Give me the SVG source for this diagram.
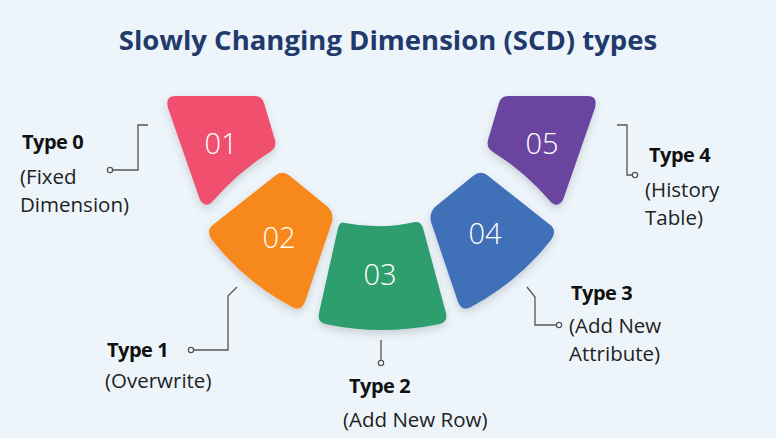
<svg xmlns="http://www.w3.org/2000/svg" width="776" height="438" viewBox="0 0 776 438">
<style>
.num{font-family:"Open Sans","Liberation Sans",sans-serif;font-size:29px;font-weight:300;fill:#fff;text-anchor:middle}
.h{font-family:"Open Sans","Liberation Sans",sans-serif;font-size:20px;font-weight:bold;fill:#111;letter-spacing:-0.5px}
.t{font-family:"Open Sans","Liberation Sans",sans-serif;font-size:20.5px;fill:#222}
.c{fill:none;stroke:#555;stroke-width:1.3}
.d{fill:#fff;stroke:#555;stroke-width:1.3}
</style>
<defs>
<filter id="sh" x="-20%" y="-20%" width="140%" height="140%"><feDropShadow dx="0" dy="4" stdDeviation="4" flood-color="#000" flood-opacity="0.15"/></filter>
<path id="p1" d="M175,96 L255,96 Q262,96 264,103 L275,140 Q277,148 270,152 Q238,172 213,201 Q206,209 200,200 L168,108 Q165,96 175,96 Z"/>
<path id="p2" d="M276,175 Q283,170 290,176 L328,207 Q334,213 332,222 L305,302 Q301,312 292,307 Q245,282 212,240 Q205,230 214,224 Z"/>
</defs>
<rect width="776" height="438" fill="#edf5fb"/>
<text x="388" y="50" text-anchor="middle" font-family="'Open Sans','Liberation Sans',sans-serif" font-size="27.5" font-weight="bold" fill="#213a6b">Slowly Changing Dimension (SCD) types</text>
<g id="n1"><use href="#p1" fill="#f0506e" filter="url(#sh)"/><text class="num" x="221" y="154">01</text></g>
<g id="n2"><use href="#p2" fill="#f7891f" filter="url(#sh)"/><text class="num" x="279" y="248">02</text></g>
<g id="n3"><path d="M345,223 Q381,230 415,222 Q421,221 423,228 L446,313 Q448,322 440,324 Q381,336 325,324 Q317,322 319,313 L338,228 Q340,221 345,223 Z" fill="#2e9e6e" filter="url(#sh)"/><text class="num" x="380" y="285">03</text></g>
<g id="n4"><use href="#p2" transform="translate(763,0) scale(-1,1)" fill="#3f6fb8" filter="url(#sh)"/><text class="num" x="485" y="244">04</text></g>
<g id="n5"><use href="#p1" transform="translate(763,0) scale(-1,1)" fill="#6a45a0" filter="url(#sh)"/><text class="num" x="542" y="154">05</text></g>
<g id="connectors">
<polyline class="c" points="148,125 138,125 138,170 113,170"/><circle class="d" cx="110" cy="170" r="2.6"/>
<polyline class="c" points="237,287 228,296 228,350 194,350"/><circle class="d" cx="191" cy="350" r="2.6"/>
<line class="c" x1="381" y1="340" x2="381" y2="360"/><circle class="d" cx="381" cy="363" r="2.6"/>
<polyline class="c" points="527,287 535,297 535,325 556,325"/><circle class="d" cx="559" cy="325" r="2.6"/>
<polyline class="c" points="617,125 627,125 627,175 632,175"/><circle class="d" cx="635" cy="175" r="2.6"/>
</g>
<g id="l0"><text class="h" x="22" y="149">Type 0</text><text class="t" x="20" y="184">(Fixed</text><text class="t" x="20" y="212">Dimension)</text></g>
<g id="l1"><text class="h" x="107" y="357">Type 1</text><text class="t" x="105" y="388">(Overwrite)</text></g>
<g id="l2"><text class="h" x="349" y="393">Type 2</text><text class="t" x="343" y="427">(Add New Row)</text></g>
<g id="l3"><text class="h" x="571" y="300">Type 3</text><text class="t" x="569" y="333">(Add New</text><text class="t" x="569" y="361">Attribute)</text></g>
<g id="l4"><text class="h" x="649" y="162">Type 4</text><text class="t" x="645" y="197">(History</text><text class="t" x="645" y="225">Table)</text></g>
</svg>
